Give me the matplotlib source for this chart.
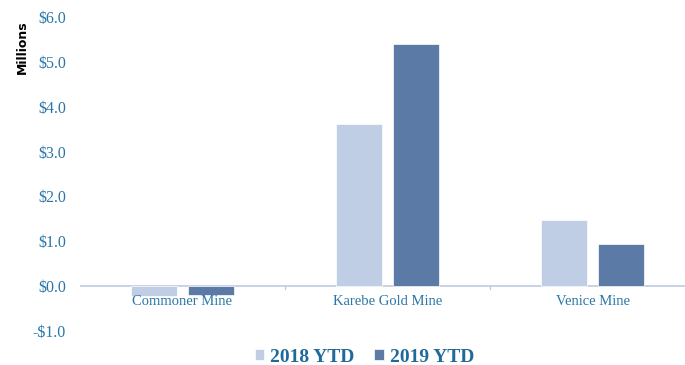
import matplotlib
matplotlib.use("Agg")
import matplotlib.pyplot as plt
import numpy as np
from matplotlib.ticker import FixedLocator, FuncFormatter

categories = ["Commoner Mine", "Karebe Gold Mine", "Venice Mine"]
series_names = ["2018 YTD", "2019 YTD"]
values_2018 = [-0.21, 3.62, 1.48]
values_2019 = [-0.20, 5.40, 0.93]
yticks = [-1.0, 0.0, 1.0, 2.0, 3.0, 4.0, 5.0, 6.0]

c2018 = "#BFCDE5"
c2019 = "#5B7AA6"
txt = "#2A76A8"

fig = plt.figure(figsize=(6.85, 3.65), dpi=100)
W, H = 685, 365
left, right, top, bottom = 80, 695, 17, 331
ax = fig.add_axes([left / W, 1 - bottom / H, (right - left) / W, (bottom - top) / H])

x = np.arange(len(categories))
bw = 0.22
off = 0.139
b1 = ax.bar(x - off, values_2018, bw, color=c2018, edgecolor="white", linewidth=0.5, label=series_names[0], zorder=2)
b2 = ax.bar(x + off, values_2019, bw, color=c2019, edgecolor="white", linewidth=0.5, label=series_names[1], zorder=2)

ax.set_xlim(-0.5, len(categories) - 0.5)
ax.set_ylim(-1.0, 6.0)
for s in ax.spines.values():
    s.set_visible(False)
ax.axhline(0, color="#BFCBE0", linewidth=1.2, zorder=1)
# category boundary ticks
for b in np.arange(0.5, len(categories) - 0.5, 1.0):
    ax.plot([b, b], [0, -0.06], color="#BFCBE0", linewidth=1, zorder=1, clip_on=False)

ax.yaxis.set_major_locator(FixedLocator(yticks))
ax.yaxis.set_major_formatter(FuncFormatter(lambda v, p: ("-$%.1f" % -v) if v < 0 else ("$%.1f" % v)))
ax.tick_params(axis="y", length=0, pad=10, labelsize=11.5, labelcolor=txt)
for lab in ax.get_yticklabels():
    lab.set_fontfamily("Liberation Serif")

ax.set_xticks([])
for xi, c in zip(x, categories):
    ax.text(xi, -0.19, c, ha="center", va="top", fontsize=10.5, color=txt,
            family="Liberation Serif")

fig.text(22 / W, 1 - 47 / H, "Millions", rotation=90, ha="center", va="center",
         fontsize=9, fontweight="bold", color="black", family="DejaVu Sans")

leg = fig.legend(handles=[b1, b2], labels=series_names, loc="center",
                 bbox_to_anchor=(0.532, 1 - 357 / H), ncol=2, frameon=False,
                 handlelength=0.5, handleheight=0.5, handletextpad=0.3,
                 columnspacing=1.0, borderpad=0.0,
                 prop={"family": "Liberation Serif", "weight": "bold", "size": 14})
for t in leg.get_texts():
    t.set_color("#1F6A99")

fig.savefig("out.png", dpi=100)
